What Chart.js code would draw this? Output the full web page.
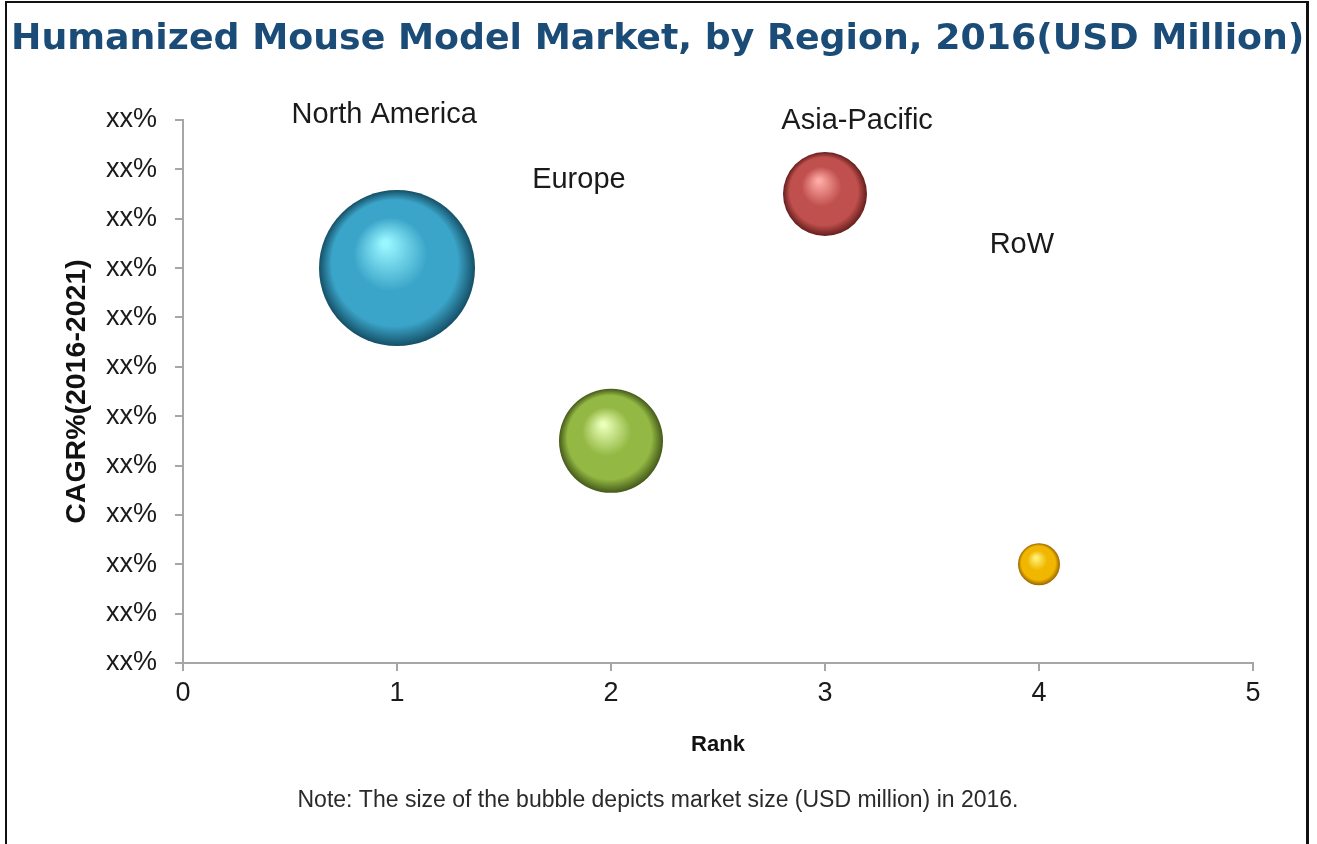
<!DOCTYPE html>
<html>
<head>
<meta charset="utf-8">
<title>Humanized Mouse Model Market, by Region, 2016</title>
<script src="https://cdn.jsdelivr.net/npm/chart.js@4.4.1/dist/chart.umd.min.js"></script>
<style>
  html, body { margin: 0; padding: 0; background: #fff; }
  canvas { display: block; }
</style>
</head>
<body>
<canvas id="bubbleChart" width="1317" height="844"></canvas>
<script>
// chart data
const regions = ['North America', 'Europe', 'Asia-Pacific', 'RoW'];
const rankVals = [1, 2, 3, 4];
const cagrVals = [8, 4.5, 9.5, 2];          // position on the xx% scale (tick index)
const sizeVals = [78, 52, 42, 21];          // bubble radius, market size
const labelX = [0.94, 1.85, 3.15, 3.92];    // where the region names sit (axis units)
const labelY = [11.1, 9.78, 10.97, 8.46];
const yTickLabels = ['xx%', 'xx%', 'xx%', 'xx%', 'xx%', 'xx%', 'xx%', 'xx%', 'xx%', 'xx%', 'xx%', 'xx%'];
const xTickLabels = ['0', '1', '2', '3', '4', '5'];

const titleText = 'Humanized Mouse Model Market, by Region, 2016(USD Million)';
const noteText = 'Note: The size of the bubble depicts market size (USD million) in 2016.';

// sphere shading: highlight, body, edge
const shades = [
  ['#98f6ff', '#3ba5c9', '#154f66'],
  ['#eaffb8', '#93b843', '#44591a'],
  ['#ffaaa5', '#c0504d', '#641e1c'],
  ['#fff27c', '#f1b700', '#9a6400']
];

function sphereFill(c) {
  const i = c.dataIndex;
  const chart = c.chart;
  const xs = chart.scales.x, ys = chart.scales.y;
  if (c.type !== 'data' || !xs || !ys || !chart.chartArea) return shades[i][1];
  const x = xs.getPixelForValue(rankVals[i]);
  const y = ys.getPixelForValue(cagrVals[i]);
  const r = sizeVals[i];
  const g = chart.ctx.createRadialGradient(x - r * 0.15, y - r * 0.32, r * 0.04, x, y, r);
  g.addColorStop(0, shades[i][0]);
  g.addColorStop(0.45, shades[i][1]);
  g.addColorStop(0.8, shades[i][1]);
  g.addColorStop(1, shades[i][2]);
  return g;
}

const decor = {
  id: 'decor',
  beforeDraw(chart) {
    const ctx = chart.ctx;
    ctx.save();
    ctx.fillStyle = '#fff';
    ctx.fillRect(0, 0, chart.width, chart.height);
    // frame
    ctx.fillStyle = '#111';
    ctx.fillRect(5, 1, 2, 843);
    ctx.fillRect(5, 1, 1304, 2);
    ctx.fillRect(1306, 1, 3, 843);
    // title
    ctx.fillStyle = '#1b4c78';
    ctx.font = 'bold 36.3px "DejaVu Sans", Verdana, sans-serif';
    ctx.textAlign = 'left';
    ctx.textBaseline = 'middle';
    ctx.fillText(titleText, 11, 40);
    // note
    ctx.fillStyle = '#2a2a2a';
    ctx.font = '23px "Liberation Sans", Arial, sans-serif';
    ctx.textAlign = 'center';
    ctx.fillText(noteText, 658, 801);
    ctx.restore();
  },
  afterDatasetsDraw(chart) {
    const ctx = chart.ctx;
    const xs = chart.scales.x, ys = chart.scales.y;
    ctx.save();
    ctx.fillStyle = '#1a1a1a';
    ctx.font = '29px "Liberation Sans", Arial, sans-serif';
    ctx.textAlign = 'center';
    ctx.textBaseline = 'middle';
    regions.forEach((name, i) => {
      ctx.fillText(name, xs.getPixelForValue(labelX[i]), ys.getPixelForValue(labelY[i]));
    });
    ctx.restore();
  }
};

new Chart(document.getElementById('bubbleChart'), {
  type: 'bubble',
  data: {
    datasets: [{
      label: 'Market size',
      data: regions.map((n, i) => ({ x: rankVals[i], y: cagrVals[i], r: sizeVals[i] })),
      backgroundColor: sphereFill,
      borderWidth: 0,
      hoverRadius: 0,
      hoverBorderWidth: 0,
      clip: false
    }]
  },
  options: {
    responsive: false,
    animation: false,
    events: [],
    layout: { autoPadding: false, padding: { top: 120, right: 64, bottom: 81, left: 0 } },
    plugins: {
      legend: { display: false },
      title: { display: false },
      tooltip: { enabled: false }
    },
    scales: {
      x: {
        type: 'linear',
        min: 0,
        max: 5,
        afterFit: s => { s.height = 100; },
        ticks: {
          stepSize: 1,
          padding: 6,
          color: '#1a1a1a',
          font: { family: '"Liberation Sans", Arial, sans-serif', size: 27 },
          callback: (v, i) => xTickLabels[i]
        },
        grid: { drawOnChartArea: false, drawTicks: true, tickLength: 8, color: '#a6a6a6', lineWidth: 2 },
        border: { display: true, color: '#a6a6a6', width: 2 },
        title: {
          display: true,
          text: 'Rank',
          color: '#111',
          font: { family: '"Liberation Sans", Arial, sans-serif', size: 22, weight: 'bold' },
          padding: { top: 0, bottom: 5 }
        }
      },
      y: {
        type: 'linear',
        min: 0,
        max: 11,
        afterFit: s => { s.width = 183; },
        ticks: {
          stepSize: 1,
          padding: 18,
          color: '#1a1a1a',
          font: { family: '"Liberation Sans", Arial, sans-serif', size: 27 },
          callback: (v, i) => yTickLabels[i]
        },
        grid: { drawOnChartArea: false, drawTicks: true, tickLength: 8, color: '#a6a6a6', lineWidth: 2 },
        border: { display: true, color: '#a6a6a6', width: 2 },
        title: {
          display: true,
          text: 'CAGR%(2016-2021)',
          color: '#111',
          font: { family: '"Liberation Sans", Arial, sans-serif', size: 28.5, weight: 'bold' },
          padding: { top: 60, bottom: 0 }
        }
      }
    }
  },
  plugins: [decor]
});
</script>
</body>
</html>
